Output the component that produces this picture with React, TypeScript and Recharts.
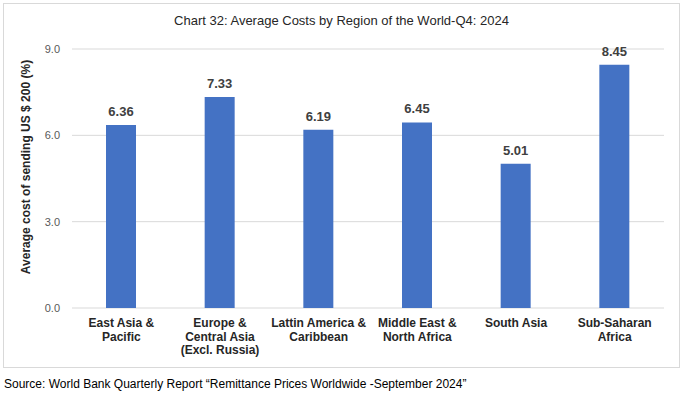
import { Bar, BarChart, CartesianGrid, LabelList, XAxis, YAxis } from 'recharts'

const regions = [
  'East Asia &\nPacific',
  'Europe &\nCentral Asia\n(Excl. Russia)',
  'Lattin America &\nCaribbean',
  'Middle East &\nNorth Africa',
  'South Asia',
  'Sub-Saharan\nAfrica',
]
const avgCost = [6.36, 7.33, 6.19, 6.45, 5.01, 8.45]
const yTicks = [0, 3, 6, 9]

const data = regions.map((region, i) => ({ region, cost: avgCost[i] }))

const FONT = 'Arial, "Liberation Sans", sans-serif'

type TickProps = { x?: number; y?: number; payload?: { value: string } }

const RegionTick = ({ x = 0, y = 0, payload }: TickProps) => {
  const lines = (payload?.value ?? '').split('\n')
  return (
    <text
      x={x}
      y={y + 11}
      textAnchor="middle"
      fontFamily={FONT}
      fontSize={12}
      fontWeight="bold"
      fill="#262626"
    >
      {lines.map((line, i) => (
        <tspan key={i} x={x} dy={i === 0 ? 0 : 13.5}>
          {line}
        </tspan>
      ))}
    </text>
  )
}

const App = () => {
  return (
    <div
      style={{
        position: 'absolute',
        left: 0,
        top: 0,
        width: 683,
        height: 396,
        background: '#fff',
        fontFamily: FONT,
      }}
    >
      <div
        style={{
          position: 'absolute',
          left: 3,
          top: 3,
          width: 675,
          height: 363,
          border: '1px solid #d9d9d9',
        }}
      />
      <div
        style={{
          position: 'absolute',
          left: 0,
          top: 13,
          width: 683,
          textAlign: 'center',
          fontSize: 13,
          color: '#262626',
        }}
      >
        Chart 32: Average Costs by Region of the World-Q4: 2024
      </div>
      <div
        style={{
          position: 'absolute',
          left: 26,
          top: 167,
          transform: 'translate(-50%, -50%) rotate(-90deg)',
          whiteSpace: 'nowrap',
          fontSize: 12,
          fontWeight: 'bold',
          color: '#262626',
        }}
      >
        Average cost of sending US $ 200 (%)
      </div>
      <div style={{ position: 'absolute', left: 0, top: 0 }}>
        <BarChart
          width={683}
          height={396}
          data={data}
          margin={{ top: 49, right: 19, bottom: 38, left: 20 }}
        >
          <CartesianGrid vertical={false} stroke="#d9d9d9" />
          <XAxis
            dataKey="region"
            axisLine={false}
            tickLine={false}
            height={50}
            interval={0}
            tick={<RegionTick />}
          />
          <YAxis
            width={52}
            domain={[0, 9]}
            ticks={yTicks}
            axisLine={false}
            tickLine={false}
            tickMargin={6}
            tickFormatter={(v: number) => v.toFixed(1)}
            tick={{ fontSize: 11, fill: '#595959', fontFamily: FONT }}
          />
          <Bar dataKey="cost" fill="#4472c4" barSize={30} isAnimationActive={false}>
            <LabelList
              dataKey="cost"
              position="top"
              offset={9}
              formatter={(v: number) => Number(v).toFixed(2)}
              style={{ fontSize: 13, fontWeight: 'bold', fill: '#404040', fontFamily: FONT }}
            />
          </Bar>
        </BarChart>
      </div>
      <div
        style={{
          position: 'absolute',
          left: 4,
          top: 377,
          fontSize: 12,
          color: '#000',
          whiteSpace: 'nowrap',
        }}
      >
        Source: World Bank Quarterly Report “Remittance Prices Worldwide -September 2024”
      </div>
    </div>
  )
}

export default App
